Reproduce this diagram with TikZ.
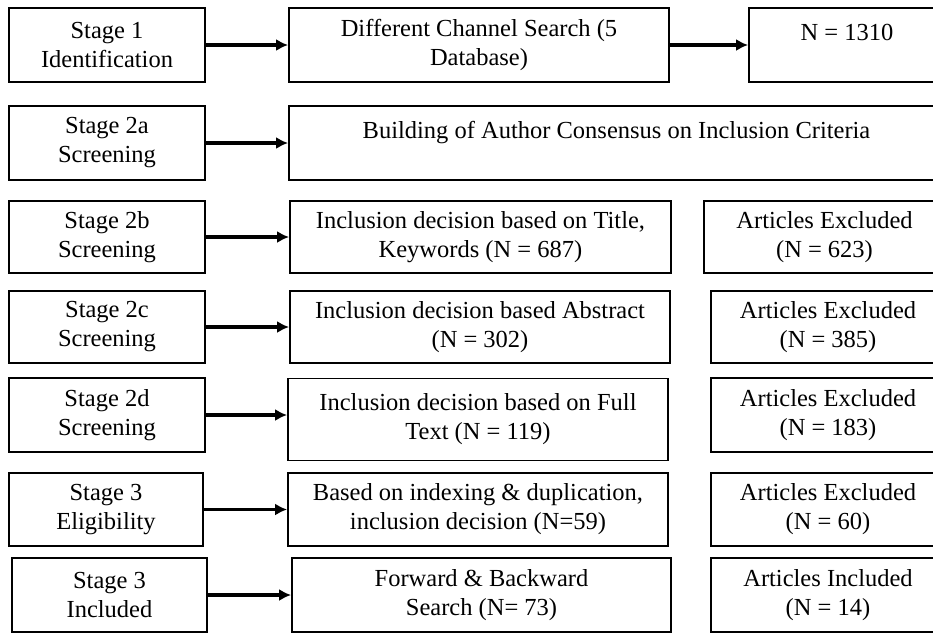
\documentclass[tikz,border=0pt]{standalone}
\usepackage{fontspec}
\setmainfont{Liberation Serif}
\usetikzlibrary{arrows.meta}

\begin{document}
\begin{tikzpicture}[x=1pt,y=-1pt]
\tikzstyle{box}=[rectangle, draw=black, line width=1.8pt, inner sep=0pt, align=center, font=\fontsize{24.5}{29}\selectfont]
\tikzstyle{stage}=[box, minimum width=196pt, minimum height=74pt]
\tikzstyle{decision}=[box, minimum width=380pt, minimum height=73pt]
\tikzstyle{result}=[box, minimum width=234pt, minimum height=74pt]
\tikzstyle{connect}=[-{Latex[length=12pt,width=12pt]}, line width=3.2pt]

\useasboundingbox (0,0) rectangle (933,633);
\clip (0,0) rectangle (933,633);

	% stages
	\node[stage] (s_1) at (107,45) {Stage 1\\Identification};
	\node[stage] (s_2) at (107,143) {Stage 2a\\Screening};
	\node[stage, minimum height=72pt] (s_3) at (107,237) {Stage 2b\\Screening};
	\node[stage, minimum height=72pt] (s_4) at (107,327) {Stage 2c\\Screening};
	\node[stage] (s_5) at (107,415) {Stage 2d\\Screening};
	\node[stage, minimum width=194pt, minimum height=73pt] (s_6) at (106,509.5) {Stage 3\\Eligibility};
	\node[stage, minimum width=195pt] (s_7) at (109.5,595) {Stage 3\\Included};

	% decisions
	\node[decision, minimum height=74pt] (d_1) at (479,45) {Different Channel Search (5\\Database)};
	\node[box, minimum width=655pt, minimum height=74pt] (d_2) at (616.5,143) {Building of Author Consensus on Inclusion Criteria\\[-12pt]\strut};
	\node[decision, minimum width=381pt, minimum height=72pt] (d_3) at (480.5,237) {Inclusion decision based on Title,\\Keywords (N = 687)};
	\node[decision, minimum height=72pt] (d_4) at (480,327) {Inclusion decision based Abstract\\(N = 302)};
	\node[decision, minimum height=82pt] (d_5) at (478,419.5) {Inclusion decision based on Full\\Text (N = 119)};
	\node[decision] (d_6) at (478,509.5) {Based on indexing \& duplication,\\inclusion decision (N=59)};
	\node[decision, minimum width=379pt, minimum height=74pt] (d_7) at (481.5,595) {Forward \& Backward\\Search (N= 73)};

	% results
	\node[result, minimum width=196pt] (r_1) at (847,45) {N = 1310\\[-12pt]\strut};
	\node[result, minimum width=241pt, minimum height=72pt] (r_3) at (824.5,237) {Articles Excluded\\(N = 623)};
	\node[result, minimum height=72pt] (r_4) at (828,327) {Articles Excluded\\(N = 385)};
	\node[result] (r_5) at (828,415) {Articles Excluded\\(N = 183)};
	\node[result, minimum height=73pt] (r_6) at (828,509.5) {Articles Excluded\\(N = 60)};
	\node[result] (r_7) at (828,595) {Articles Included\\(N = 14)};

	\foreach \i in {1,...,7}
		\draw[connect] (s_\i.east) -- (s_\i.east -| d_\i.west);
	\draw[connect] (d_1.east) -- (d_1.east -| r_1.west);

\end{tikzpicture}
\end{document}
